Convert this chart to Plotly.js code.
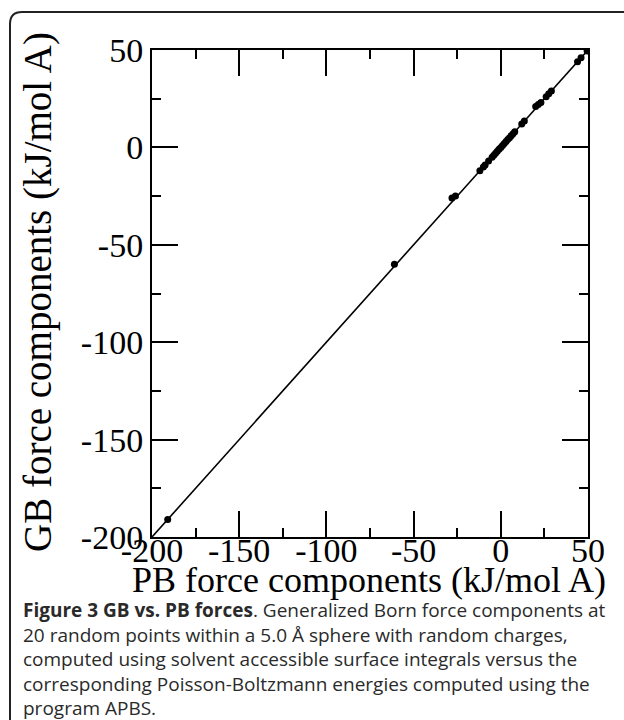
<!DOCTYPE html>
<html><head><meta charset="utf-8">
<script src="https://cdn.plot.ly/plotly-3.0.1.min.js"></script>
<style>html,body{margin:0;padding:0;background:#fff;}</style>
</head><body><div id="chart" style="width:624px;height:720px;"></div>
<script>
// ---- data ----
const pbForce = [-191, -61, -28, -26, -12, -10, -9, -7, -5, -4, -3, -2, -1, 0, 1, 2, 3, 4, 5, 6, 7, 8, 12, 13.5, 20, 21.5, 23, 26, 27.5, 29, 44, 46, 49.5];
const gbForce = [-191, -60, -26, -25, -12, -10, -9, -7, -5, -4, -3, -2, -1, 0, 1, 2, 3, 4, 5, 6, 7, 8, 12, 13.5, 21, 22, 23, 26, 27.5, 29, 44, 46, 49.5];
const refLineX = [-200, 50];
const refLineY = [-200, 50];
const tickValues = [-200, -150, -100, -50, 0, 50];
const tickLabels = ['-200', '-150', '-100', '-50', '0', '50'];
const xTitleText = 'PB force components (kJ/mol A)';
const yTitleText = 'GB force components (kJ/mol A)';
const captionLines = [
  '<b>Figure 3 GB vs. PB forces</b>. Generalized Born force components at',
  '20 random points within a 5.0 Å sphere with random charges,',
  'computed using solvent accessible surface integrals versus the',
  'corresponding Poisson-Boltzmann energies computed using the',
  'program APBS.'
];

// ---- layout geometry ----
const W = 624, H = 720;
const M = {l: 152, r: 36, t: 50, b: 183};
const pw = W - M.l - M.r, ph = H - M.t - M.b;
const px = x => (x - M.l) / pw;
const py = y => (H - M.b - y) / ph;

const serif = 'Liberation Serif, Times New Roman, serif';

const traces = [
  {x: refLineX, y: refLineY, type: 'scatter', mode: 'lines',
   line: {color: '#000', width: 1.6}, hoverinfo: 'skip', showlegend: false},
  {x: pbForce, y: gbForce, type: 'scatter', mode: 'markers',
   marker: {color: '#000', size: 7}, showlegend: false}
];

function axis(extra) {
  return Object.assign({
    range: [-200, 50], tickmode: 'array', tickvals: tickValues, ticktext: tickLabels,
    ticks: 'inside', ticklen: 26, tickwidth: 2, tickcolor: '#000',
    showline: true, linewidth: 2, linecolor: '#000', mirror: 'ticks',
    showgrid: false, zeroline: false,
    minor: {dtick: 25, tick0: -200, ticks: 'inside', ticklen: 9, tickwidth: 2, tickcolor: '#000', showgrid: false},
    tickfont: {family: serif, size: 34, color: '#000'}
  }, extra);
}

const annotations = [
  {text: yTitleText, xref: 'paper', yref: 'paper', x: px(38), y: py(292), textangle: -90,
   xanchor: 'center', yanchor: 'middle', showarrow: false,
   font: {family: serif, size: 39, color: '#000'}},
  {text: xTitleText, xref: 'paper', yref: 'paper', x: px(369), y: py(580),
   xanchor: 'center', yanchor: 'middle', showarrow: false,
   font: {family: serif, size: 36, color: '#000'}}
];
const capY = [610, 634.5, 659, 683.5, 708];
captionLines.forEach((t, i) => annotations.push({
  text: t, xref: 'paper', yref: 'paper', x: px(21), y: py(capY[i]),
  xanchor: 'left', yanchor: 'middle', showarrow: false, align: 'left',
  font: {family: 'Open Sans, sans-serif', size: 19, color: '#2a2a2a'}
}));

// rounded frame
const fl = px(10), ft = py(12), fr = px(640), fb = py(740);
const rx = 12 / pw, ry = 12 / ph;
const framePath = `M ${fr} ${ft} L ${fl + rx} ${ft} Q ${fl} ${ft} ${fl} ${ft - ry} L ${fl} ${fb}`;

const layout = {
  width: W, height: H, margin: M,
  paper_bgcolor: '#fff', plot_bgcolor: '#fff',
  xaxis: axis({ticklabelstandoff: -18}),
  yaxis: axis({}),
  annotations: annotations,
  shapes: [{type: 'path', xref: 'paper', yref: 'paper', path: framePath,
            line: {color: '#222', width: 2}, layer: 'above'}],
  showlegend: false
};

Plotly.newPlot('chart', traces, layout, {displayModeBar: false, staticPlot: true});
</script>
</body></html>
